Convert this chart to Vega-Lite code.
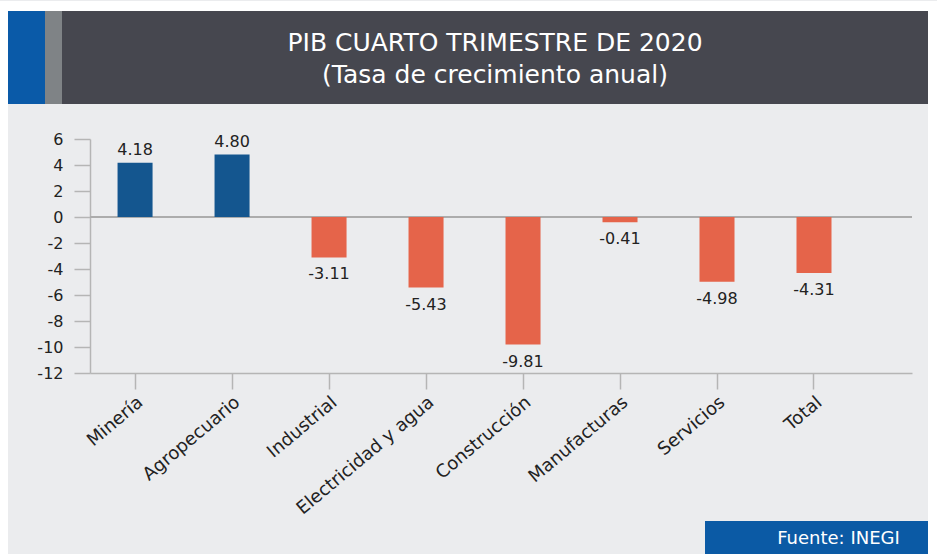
{
  "$schema": "https://vega.github.io/schema/vega-lite/v6.json",
  "background": "#ebecee",
  "padding": 0,
  "config": {
    "view": {"stroke": null},
    "font": "DejaVu Sans",
    "locale": {"number": {"decimal": ".", "thousands": ",", "grouping": [3], "currency": ["$", ""], "minus": "-"}}
  },
  "spacing": 0,
  "vconcat": [
    {"width": 937, "height": 10, "view": {"fill": "white"}, "data": {"values": [{}]}, "mark": {"type": "text", "text": ""}, "encoding": {}},
    {
      "spacing": 0,
      "hconcat": [
        {"width": 8, "height": 544, "view": {"fill": "white"}, "data": {"values": [{}]}, "mark": {"type": "text", "text": ""}, "encoding": {}},
        {
          "spacing": 27,
          "vconcat": [
            {
              "spacing": 0,
              "hconcat": [
                {"width": 37, "height": 93, "view": {"fill": "#0a5aa8"}, "data": {"values": [{}]}, "mark": {"type": "text", "text": ""}, "encoding": {}},
                {"width": 17, "height": 93, "view": {"fill": "#7f8386"}, "data": {"values": [{}]}, "mark": {"type": "text", "text": ""}, "encoding": {}},
                {"width": 866, "height": 93, "view": {"fill": "#46474f"}, "data": {"values": [{}]},
                 "mark": {"type": "text", "text": ["PIB CUARTO TRIMESTRE DE 2020", "(Tasa de crecimiento anual)"], "color": "white", "fontSize": 25, "lineHeight": 32, "baseline": "middle", "dy": -15},
                 "encoding": {}}
              ]
            },
            {
              "spacing": 0,
              "hconcat": [
                {"width": 1, "height": 1, "data": {"values": [{}]}, "mark": {"type": "text", "text": ""}, "encoding": {}},
                {
                  "spacing": 3,
                  "vconcat": [
                    {
                      "width": 822,
                      "height": 234,
                      "data": {"values": [
                        {"sector": "Minería", "tasa": 4.18},
                        {"sector": "Agropecuario", "tasa": 4.80},
                        {"sector": "Industrial", "tasa": -3.11},
                        {"sector": "Electricidad y agua", "tasa": -5.43},
                        {"sector": "Construcción", "tasa": -9.81},
                        {"sector": "Manufacturas", "tasa": -0.41},
                        {"sector": "Servicios", "tasa": -4.98},
                        {"sector": "Total", "tasa": -4.31}
                      ]},
                      "layer": [
                        {
                          "mark": {"type": "rule", "color": "#adadad", "strokeWidth": 1.5},
                          "encoding": {"y": {"datum": 0, "type": "quantitative",
                            "scale": {"domain": [-12, 6], "nice": false, "zero": false},
                            "axis": {"title": null, "values": [-12, -10, -8, -6, -4, -2, 0, 2, 4, 6], "tickCount": 10, "grid": false, "tickSize": 16, "labelPadding": 11,
                              "labelOverlap": false, "labelFontSize": 16, "labelColor": "#222", "domainColor": "#b5b5b5", "tickColor": "#b5b5b5",
                              "domainWidth": 1.5, "tickWidth": 1.5, "minExtent": 81}}}
                        },
                        {
                          "mark": {"type": "bar"},
                          "encoding": {
                            "x": {"field": "sector", "type": "nominal", "sort": null,
                              "scale": {"paddingInner": 0.639, "paddingOuter": 0.557, "align": 0.255},
                              "axis": {"title": null, "labelAngle": -40, "labelFontSize": 18, "labelColor": "#222", "tickSize": 16, "labelPadding": 4,
                                "domainColor": "#b5b5b5", "tickColor": "#b5b5b5", "domainWidth": 1.5, "tickWidth": 1.5}},
                            "y": {"field": "tasa", "type": "quantitative",
                              "scale": {"domain": [-12, 6], "nice": false, "zero": false},
                              "axis": {"title": null, "values": [-12, -10, -8, -6, -4, -2, 0, 2, 4, 6], "tickCount": 10, "grid": false, "tickSize": 16, "labelPadding": 11,
                                "labelOverlap": false, "labelFontSize": 16, "labelColor": "#222", "domainColor": "#b5b5b5", "tickColor": "#b5b5b5",
                                "domainWidth": 1.5, "tickWidth": 1.5, "minExtent": 81}},
                            "color": {"condition": {"test": "datum.tasa >= 0", "value": "#14568f"}, "value": "#e5644a"}
                          }
                        },
                        {
                          "transform": [{"filter": "datum.tasa >= 0"}],
                          "mark": {"type": "text", "baseline": "alphabetic", "dy": -8, "fontSize": 16, "color": "#222"},
                          "encoding": {
                            "x": {"field": "sector", "type": "nominal", "sort": null},
                            "y": {"field": "tasa", "type": "quantitative"},
                            "text": {"field": "tasa", "type": "quantitative", "format": ".2f"}
                          }
                        },
                        {
                          "transform": [{"filter": "datum.tasa < 0"}],
                          "mark": {"type": "text", "baseline": "top", "dy": 9, "fontSize": 16, "color": "#222"},
                          "encoding": {
                            "x": {"field": "sector", "type": "nominal", "sort": null},
                            "y": {"field": "tasa", "type": "quantitative"},
                            "text": {"field": "tasa", "type": "quantitative", "format": ".2f"}
                          }
                        }
                      ]
                    },
                    {
                      "spacing": 0,
                      "hconcat": [
                        {"width": 615, "height": 34, "data": {"values": [{}]}, "mark": {"type": "text", "text": ""}, "encoding": {}},
                        {"width": 223, "height": 34, "view": {"fill": "#0b5aa5"}, "data": {"values": [{}]},
                         "mark": {"type": "text", "text": "Fuente: INEGI", "color": "white", "fontSize": 18, "dx": 22, "dy": 1}, "encoding": {}}
                      ]
                    }
                  ]
                }
              ]
            }
          ]
        },
        {"width": 9, "height": 544, "view": {"fill": "white"}, "data": {"values": [{}]}, "mark": {"type": "text", "text": ""}, "encoding": {}}
      ]
    }
  ]
}
